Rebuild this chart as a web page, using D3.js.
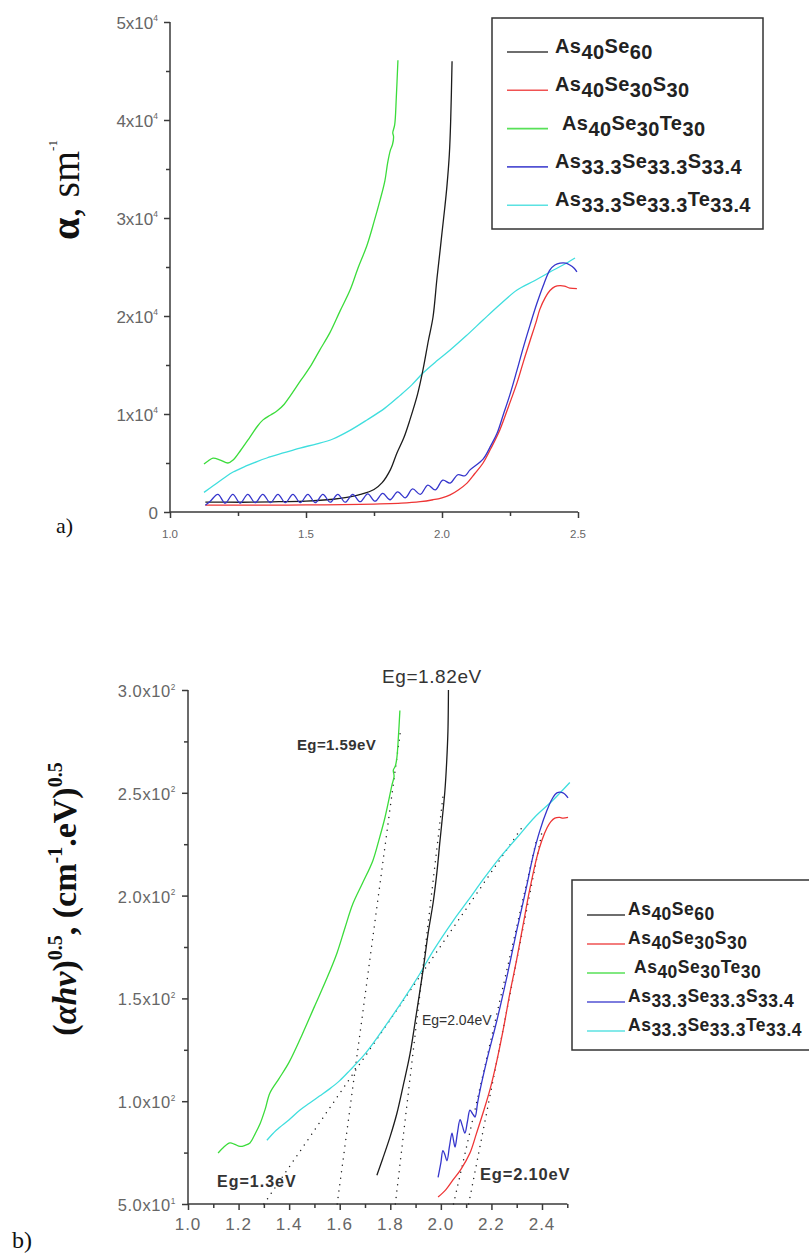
<!DOCTYPE html>
<html>
<head>
<meta charset="utf-8">
<script src="https://cdn.jsdelivr.net/npm/d3@7"></script>
<style>
  body { margin: 0; background: #fff; }
  svg { display: block; }
</style>
</head>
<body>
<svg id="fig" width="809" height="1255"></svg>
<script>
// ---------- series labels (element, subscript) ----------
const seriesNames = [
  [["As", "40"], ["Se", "60"]],
  [["As", "40"], ["Se", "30"], ["S", "30"]],
  [["As", "40"], ["Se", "30"], ["Te", "30"]],
  [["As", "33.3"], ["Se", "33.3"], ["S", "33.4"]],
  [["As", "33.3"], ["Se", "33.3"], ["Te", "33.4"]]
];
const seriesColors = ["#1c1c1c", "#ee3535", "#3bdc3b", "#3535cc", "#3fdede"];

// ---------- panel a: absorption coefficient alpha (cm^-1) vs photon energy (eV) ----------
const aBlackX = [1.13, 1.2, 1.3, 1.4, 1.5, 1.6, 1.65, 1.7, 1.75, 1.78, 1.81, 1.834, 1.86, 1.882, 1.91, 1.93, 1.95, 1.967, 1.981, 1.993, 2.0, 2.01, 2.018, 2.027, 2.032, 2.037];
const aBlackY = [1000, 1000, 1000, 1050, 1100, 1300, 1500, 1800, 2300, 3000, 4300, 6000, 7600, 9400, 12000, 14500, 17500, 19900, 23700, 26700, 28500, 31000, 33200, 36500, 40000, 46000];

const aRedX = [1.13, 1.3, 1.5, 1.7, 1.85, 1.92, 1.967, 2.0, 2.03, 2.06, 2.092, 2.12, 2.151, 2.18, 2.213, 2.245, 2.276, 2.3, 2.324, 2.345, 2.36, 2.38, 2.397, 2.415, 2.434, 2.45, 2.47, 2.496];
const aRedY = [700, 700, 720, 780, 900, 1050, 1250, 1450, 1750, 2250, 2950, 3900, 5000, 6500, 8400, 10800, 13200, 15400, 17500, 19300, 20700, 21900, 22600, 23000, 23100, 23050, 22850, 22800];

const aGreenX = [1.125, 1.14, 1.158, 1.185, 1.213, 1.232, 1.26, 1.294, 1.32, 1.342, 1.37, 1.393, 1.42, 1.441, 1.48, 1.515, 1.55, 1.588, 1.625, 1.662, 1.69, 1.724, 1.75, 1.772, 1.79, 1.8, 1.81, 1.818, 1.822, 1.819, 1.826, 1.832, 1.838];
const aGreenY = [4900, 5200, 5500, 5300, 5000, 5300, 6300, 7650, 8700, 9400, 9900, 10300, 11000, 11800, 13400, 14800, 16500, 18300, 20500, 22650, 24800, 27200, 29600, 31800, 33800, 35600, 36900, 37500, 38300, 38700, 39500, 42300, 46100];

const aBlueX = [1.13, 1.148, 1.176, 1.203, 1.231, 1.258, 1.286, 1.313, 1.341, 1.369, 1.397, 1.424, 1.452, 1.479, 1.507, 1.534, 1.562, 1.589, 1.617, 1.644, 1.672, 1.699, 1.727, 1.754, 1.782, 1.809, 1.837, 1.865, 1.892, 1.92, 1.948, 1.975, 2.003, 2.03, 2.058, 2.085, 2.103, 2.151, 2.18, 2.202, 2.225, 2.25, 2.275, 2.298, 2.325, 2.349, 2.375, 2.397, 2.415, 2.434, 2.455, 2.47, 2.485, 2.496];
const aBlueY = [700, 1100, 1800, 900, 1800, 900, 1800, 950, 1800, 950, 1800, 950, 1800, 950, 1800, 950, 1800, 1000, 1800, 1000, 1800, 1050, 1850, 1100, 1900, 1250, 2050, 1450, 2350, 1800, 2750, 2250, 3250, 2950, 3800, 3700, 4300, 5400, 6800, 8000, 9900, 12000, 14400, 16700, 19200, 21300, 23300, 24700, 25200, 25400, 25400, 25200, 24900, 24500];

const aCyanX = [1.125, 1.16, 1.2, 1.232, 1.28, 1.32, 1.356, 1.42, 1.478, 1.54, 1.599, 1.66, 1.724, 1.79, 1.846, 1.89, 1.93, 1.98, 2.03, 2.09, 2.151, 2.21, 2.276, 2.34, 2.397, 2.445, 2.489];
const aCyanY = [2000, 2700, 3500, 4080, 4700, 5150, 5510, 6050, 6530, 6950, 7450, 8300, 9390, 10600, 11900, 13000, 14180, 15400, 16530, 18000, 19590, 21100, 22650, 23600, 24490, 25200, 25920];

// axis ticks, panel a
const aXTicks = [1.0, 1.5, 2.0, 2.5];
const aXTickLabels = ["1.0", "1.5", "2.0", "2.5"];
const aXMinor = [1.25, 1.75, 2.25];
const aYTicks = [0, 10000, 20000, 30000, 40000, 50000];
const aYTickMantissa = ["0", "1x10", "2x10", "3x10", "4x10", "5x10"];
const aYTickExponent = ["", "4", "4", "4", "4", "4"];
const aYMinor = [5000, 15000, 25000, 35000, 45000];

// ---------- panel b: (alpha h nu)^0.5 vs photon energy (eV) ----------
const bBlackX = [1.747, 1.77, 1.8, 1.826, 1.85, 1.878, 1.905, 1.93, 1.95, 1.97, 1.985, 1.996, 2.006, 2.016, 2.023, 2.028, 2.03];
const bBlackY = [64, 72, 83, 94, 107, 123, 144, 164, 182, 197, 212, 226, 238, 251, 265, 280, 300];

const bRedX = [1.989, 2.02, 2.048, 2.08, 2.115, 2.14, 2.166, 2.195, 2.222, 2.25, 2.273, 2.3, 2.325, 2.35, 2.38, 2.4, 2.42, 2.435, 2.451, 2.47, 2.483, 2.503];
const bRedY = [53.4, 57, 61.7, 67, 74.8, 84, 94, 106, 120, 137, 152.6, 169, 185.6, 202, 218.8, 227, 233, 236, 237.7, 238, 237.7, 238];

const bGreenX = [1.119, 1.14, 1.166, 1.185, 1.206, 1.225, 1.245, 1.265, 1.285, 1.305, 1.324, 1.36, 1.4, 1.45, 1.5, 1.55, 1.589, 1.62, 1.652, 1.69, 1.731, 1.755, 1.779, 1.795, 1.807, 1.815, 1.812, 1.82, 1.826, 1.832, 1.838];
const bGreenY = [74.8, 77.5, 79.7, 79, 78, 78.5, 79.7, 84, 89, 96, 104, 111, 119, 132, 146, 160, 172, 184, 196, 206, 217, 227, 238, 247, 254, 258, 261, 263, 267, 277, 290];

const bBlueX = [1.989, 2.0, 2.008, 2.016, 2.024, 2.034, 2.044, 2.05, 2.056, 2.066, 2.076, 2.085, 2.095, 2.105, 2.115, 2.125, 2.135, 2.145, 2.155, 2.182, 2.222, 2.261, 2.3, 2.313, 2.34, 2.364, 2.39, 2.42, 2.44, 2.459, 2.483, 2.503];
const bBlueY = [63, 70, 76, 74, 71, 78, 84.5, 81, 77.7, 85, 91, 88, 84.5, 90, 95.7, 94, 92.3, 99, 105.4, 120, 139.5, 160.4, 183, 190, 205, 219, 231, 241.6, 247, 250, 250, 247.5];

const bCyanX = [1.312, 1.35, 1.4, 1.443, 1.48, 1.52, 1.56, 1.6, 1.64, 1.7, 1.747, 1.8, 1.86, 1.917, 1.969, 2.05, 2.11, 2.166, 2.23, 2.3, 2.37, 2.44, 2.51];
const bCyanY = [81, 86, 91, 95.7, 99, 102.5, 106, 110, 115, 123, 130.7, 140, 151, 162, 173, 188, 198, 207.6, 218, 228, 238, 246, 255];

// linear fits extrapolated to the energy axis (optical gap)
const fitGreen = [[1.59, 50], [1.84, 280]];
const fitCyan  = [[1.30, 50], [2.32, 233]];
const fitBlack = [[1.82, 50], [2.01, 250]];
const fitBlue  = [[2.05, 50], [2.38, 228]];
const fitRed   = [[2.11, 50], [2.40, 231]];

// gap annotations: text, energy, ordinate
const gapText = ["Eg=1.82eV", "Eg=1.59eV", "Eg=2.04eV", "Eg=1.3eV", "Eg=2.10eV"];
const gapX = [1.767, 1.431, 1.925, 1.115, 2.155];
const gapY = [303.4, 270.8, 137, 58.3, 61.7];

// axis ticks, panel b
const bXTicks = [1.0, 1.2, 1.4, 1.6, 1.8, 2.0, 2.2, 2.4];
const bXTickLabels = ["1.0", "1.2", "1.4", "1.6", "1.8", "2.0", "2.2", "2.4"];
const bXMinor = [1.1, 1.3, 1.5, 1.7, 1.9, 2.1, 2.3, 2.5];
const bYTicks = [50, 100, 150, 200, 250, 300];
const bYTickMantissa = ["5.0x10", "1.0x10", "1.5x10", "2.0x10", "2.5x10", "3.0x10"];
const bYTickExponent = ["1", "2", "2", "2", "2", "2"];
const bYMinor = [75, 125, 175, 225, 275];

// ---------- drawing ----------
const svg = d3.select("#fig");
const SANS = "'Liberation Sans', Arial, sans-serif";
const SERIF = "'Liberation Serif', 'Times New Roman', serif";
const AXIS = "#3a3a3a";

function zip(xs, ys) { return xs.map((x, i) => [x, ys[i]]); }

function drawAxes(g, x, y, o) {
  const xAxis = g.append("g").attr("transform", `translate(0,${y.range()[0]})`)
    .call(d3.axisBottom(x).tickValues(o.xTicks).tickSize(6).tickSizeOuter(0).tickFormat(""));
  g.append("g").attr("transform", `translate(0,${y.range()[0]})`)
    .call(d3.axisBottom(x).tickValues(o.xMinor).tickSize(4).tickSizeOuter(0).tickFormat(""))
    .select(".domain").remove();
  const yAxis = g.append("g").attr("transform", `translate(${x.range()[0]},0)`)
    .call(d3.axisLeft(y).tickValues(o.yTicks).tickSize(6).tickSizeOuter(0).tickFormat(""));
  g.append("g").attr("transform", `translate(${x.range()[0]},0)`)
    .call(d3.axisLeft(y).tickValues(o.yMinor).tickSize(4).tickSizeOuter(0).tickFormat(""))
    .select(".domain").remove();
  g.selectAll(".domain, .tick line").attr("stroke", AXIS).attr("stroke-width", 1.5);
  // x axis line runs to the last minor tick
  xAxis.select(".domain").attr("d", `M${x.range()[0]},0H${x(o.xEnd)}`);
  yAxis.select(".domain").attr("d", `M0,${y.range()[0]}V${y.range()[1]}`);

  // x tick labels
  g.selectAll(null).data(o.xTicks).join("text")
    .attr("x", d => x(d)).attr("y", y.range()[0] + o.xLabelDy)
    .attr("text-anchor", "middle")
    .attr("font-family", SANS).attr("font-size", o.xFont)
    .attr("letter-spacing", o.xSpacing)
    .attr("fill", "#666")
    .text((d, i) => o.xLabels[i]);

  // y tick labels with power-of-ten exponent
  o.yTicks.forEach((v, i) => {
    const t = g.append("text")
      .attr("x", x.range()[0] - o.yLabelGap).attr("y", y(v) + o.yLabelDy)
      .attr("text-anchor", "end")
      .attr("font-family", SANS).attr("font-size", o.yFont)
      .attr("letter-spacing", o.ySpacing)
      .attr("fill", "#666");
    t.append("tspan").text(o.yMant[i]);
    if (o.yExp[i]) {
      t.append("tspan").attr("dy", -o.yFont * 0.45).attr("font-size", o.yFont * 0.5).text(o.yExp[i]);
    }
  });
}

function drawLegend(g, o) {
  g.append("rect").attr("x", o.x).attr("y", o.y).attr("width", o.w).attr("height", o.h)
    .attr("fill", "#fff").attr("stroke", "#333").attr("stroke-width", 1.5);
  seriesNames.forEach((parts, i) => {
    const ly = o.firstY + i * o.step;
    g.append("line").attr("x1", o.lineX0).attr("x2", o.lineX1).attr("y1", ly).attr("y2", ly)
      .attr("stroke", seriesColors[i]).attr("stroke-width", 1.6).attr("opacity", 0.85);
    const t = g.append("text")
      .attr("x", o.textX + (i === 2 ? o.indent : 0)).attr("y", ly + o.baseDy)
      .attr("font-family", SANS).attr("font-weight", "bold")
      .attr("font-size", o.font).attr("fill", "#222")
      .attr("letter-spacing", o.spacing);
    parts.forEach(([el, sub]) => {
      t.append("tspan").attr("y", ly + o.baseDy).text(el);
      t.append("tspan").attr("y", ly + o.baseDy + o.subDy).attr("font-size", o.subFont).text(sub);
    });
  });
}

const line = (x, y) => d3.line().x(d => x(d[0])).y(d => y(d[1])).curve(d3.curveCatmullRom.alpha(0.5));

// ----- panel a -----
const xA = d3.scaleLinear().domain([1.0, 2.5]).range([170, 578]);
const yA = d3.scaleLinear().domain([0, 50000]).range([512, 22]);
const gA = svg.append("g");
drawAxes(gA, xA, yA, {
  xTicks: aXTicks, xMinor: aXMinor, xLabels: aXTickLabels, xEnd: 2.5,
  yTicks: aYTicks, yMinor: aYMinor, yMant: aYTickMantissa, yExp: aYTickExponent,
  xLabelDy: 26, xFont: 11.5, xSpacing: 0,
  yLabelGap: 12, yLabelDy: 6.5, yFont: 17, ySpacing: 0
});
const aSeries = [zip(aBlackX, aBlackY), zip(aRedX, aRedY), zip(aGreenX, aGreenY), zip(aBlueX, aBlueY), zip(aCyanX, aCyanY)];
const drawOrderA = [4, 0, 1, 3, 2];
drawOrderA.forEach(i => {
  gA.append("path").datum(aSeries[i]).attr("d", line(xA, yA))
    .attr("fill", "none").attr("stroke", seriesColors[i]).attr("stroke-width", 1.3);
});
drawLegend(gA, { x: 492, y: 18, w: 271, h: 211, firstY: 52, step: 38.3, lineX0: 507, lineX1: 548,
  textX: 555, indent: 7, baseDy: 1, subDy: 6, font: 20, subFont: 20, spacing: 0.4 });

// y title, panel a
const tA = svg.append("text").attr("transform", "translate(79,190) rotate(-90)")
  .attr("text-anchor", "middle").attr("font-family", SERIF).attr("font-size", 40).attr("fill", "#111");
tA.append("tspan").attr("font-weight", "bold").text("α");
tA.append("tspan").text(", sm");
tA.append("tspan").attr("dy", -22).attr("font-size", 13).text("-1");
svg.append("text").attr("x", 56).attr("y", 533).attr("font-family", SERIF).attr("font-size", 22)
  .attr("fill", "#111").text("a)");

// ----- panel b -----
const xB = d3.scaleLinear().domain([1.0, 2.4]).range([188, 542]);
const yB = d3.scaleLinear().domain([50, 300]).range([1204, 690]);
const gB = svg.append("g");
drawAxes(gB, xB, yB, {
  xTicks: bXTicks, xMinor: bXMinor, xLabels: bXTickLabels, xEnd: 2.5,
  yTicks: bYTicks, yMinor: bYMinor, yMant: bYTickMantissa, yExp: bYTickExponent,
  xLabelDy: 26, xFont: 17, xSpacing: 1,
  yLabelGap: 12, yLabelDy: 7, yFont: 16.5, ySpacing: 0.6
});

// dotted linear fits
[fitGreen, fitCyan, fitBlack, fitBlue, fitRed].forEach(f => {
  gB.append("line")
    .attr("x1", xB(f[0][0])).attr("y1", yB(f[0][1]))
    .attr("x2", xB(f[1][0])).attr("y2", yB(f[1][1]))
    .attr("stroke", "#222").attr("stroke-width", 1.5)
    .attr("stroke-linecap", "round").attr("stroke-dasharray", "0 6.5");
});

const bSeries = [zip(bBlackX, bBlackY), zip(bRedX, bRedY), zip(bGreenX, bGreenY), zip(bBlueX, bBlueY), zip(bCyanX, bCyanY)];
const drawOrderB = [4, 0, 1, 3, 2];
drawOrderB.forEach(i => {
  gB.append("path").datum(bSeries[i]).attr("d", line(xB, yB))
    .attr("fill", "none").attr("stroke", seriesColors[i]).attr("stroke-width", 1.3);
});

// gap labels
const gapStyle = [
  { size: 19, weight: "normal", ls: 0.6 },
  { size: 15, weight: "bold", ls: 0.4 },
  { size: 14, weight: "normal", ls: 0 },
  { size: 16, weight: "bold", ls: 1 },
  { size: 16.5, weight: "bold", ls: 0.8 }
];
gapText.forEach((s, i) => {
  gB.append("text").attr("x", xB(gapX[i])).attr("y", yB(gapY[i]))
    .attr("font-family", SANS).attr("font-size", gapStyle[i].size)
    .attr("font-weight", gapStyle[i].weight).attr("letter-spacing", gapStyle[i].ls)
    .attr("fill", "#333").text(s);
});

drawLegend(gB, { x: 572, y: 880, w: 250, h: 170, firstY: 915, step: 29, lineX0: 587, lineX1: 625,
  textX: 628, indent: 6, baseDy: 0, subDy: 5, font: 17.5, subFont: 17.5, spacing: 0.5 });

// y title, panel b
const tB = svg.append("text").attr("transform", "translate(76,899) rotate(-90)")
  .attr("text-anchor", "middle").attr("font-family", SERIF).attr("font-size", 34)
  .attr("font-weight", "bold").attr("fill", "#111");
tB.append("tspan").text("(");
tB.append("tspan").attr("font-style", "italic").text("αh");
tB.append("tspan").attr("font-style", "italic").text("ν");
tB.append("tspan").text(")");
tB.append("tspan").attr("dy", -14).attr("font-size", 20).text("0.5");
tB.append("tspan").attr("dy", 14).text(", (cm");
tB.append("tspan").attr("dy", -14).attr("font-size", 20).text("-1");
tB.append("tspan").attr("dy", 14).text(".eV)");
tB.append("tspan").attr("dy", -14).attr("font-size", 20).text("0.5");
svg.append("text").attr("x", 12).attr("y", 1248).attr("font-family", SERIF).attr("font-size", 24)
  .attr("fill", "#111").text("b)");
</script>
</body>
</html>
